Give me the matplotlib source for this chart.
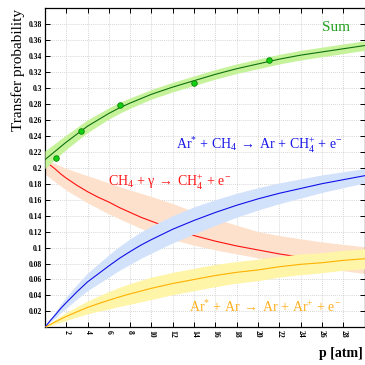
import numpy as np
import matplotlib
matplotlib.use('Agg')
from matplotlib import pyplot as plt
from matplotlib.ticker import MultipleLocator, FuncFormatter

plt.rcParams['font.family'] = 'Liberation Serif'
plt.rcParams['mathtext.fontset'] = 'custom'
plt.rcParams['mathtext.rm'] = 'Liberation Serif'
plt.rcParams['mathtext.it'] = 'Liberation Serif:italic'
plt.rcParams['mathtext.bf'] = 'Liberation Serif:bold'

# pressure grid (atm)
p = [0, 0.5, 1, 1.5, 2, 3, 4, 5, 6, 7, 8, 9, 10, 12, 14, 16, 18, 20, 22, 24, 26, 28, 30]

# Ar* + CH4 -> Ar + CH4+ + e-
penning = [0, 0.0085, 0.016, 0.024, 0.031, 0.0445, 0.057, 0.067, 0.077, 0.0866, 0.095,
           0.103, 0.110, 0.123, 0.134, 0.144, 0.153, 0.161, 0.168, 0.174, 0.180, 0.185, 0.190]
penning_err = [0, 0.002, 0.004, 0.0055, 0.007, 0.009, 0.011, 0.0125, 0.014, 0.015, 0.016,
               0.0165, 0.017, 0.017, 0.017, 0.016, 0.015, 0.014, 0.013, 0.012, 0.011, 0.010, 0.009]

# Ar* + Ar -> Ar + Ar+ + e-
arar = [0, 0.0037, 0.0072, 0.0105, 0.0137, 0.0195, 0.025, 0.0297, 0.034, 0.0383, 0.042,
        0.0455, 0.049, 0.055, 0.060, 0.065, 0.069, 0.072, 0.076, 0.079, 0.081, 0.084, 0.086]
arar_err = [0, 0.0015, 0.003, 0.004, 0.005, 0.0065, 0.008, 0.0095, 0.011, 0.012, 0.013,
            0.0135, 0.014, 0.014, 0.014, 0.014, 0.0135, 0.0135, 0.013, 0.013, 0.0125, 0.0125, 0.0125]

# CH4 + gamma -> CH4+ + e-
photo = [0.210, 0.2033, 0.198, 0.192, 0.187, 0.178, 0.170, 0.163, 0.157, 0.150, 0.144,
         0.138, 0.133, 0.123, 0.115, 0.108, 0.102, 0.097, 0.092, 0.088, 0.084, 0.080, 0.077]
photo_hi = [0.210, 0.2075, 0.205, 0.202, 0.199, 0.1945, 0.190, 0.1855, 0.181, 0.1765, 0.172,
            0.168, 0.164, 0.155, 0.145, 0.136, 0.128, 0.120, 0.115, 0.111, 0.107, 0.104, 0.101]
photo_lo = [0.192, 0.187, 0.182, 0.177, 0.172, 0.164, 0.156, 0.149, 0.142, 0.136, 0.130,
            0.124, 0.118, 0.110, 0.103, 0.097, 0.092, 0.087, 0.083, 0.079, 0.075, 0.071, 0.0675]

# total
total = [0.210, 0.2155, 0.221, 0.2265, 0.232, 0.242, 0.252, 0.260, 0.268, 0.275, 0.281,
         0.2865, 0.292, 0.301, 0.309, 0.317, 0.324, 0.330, 0.336, 0.341, 0.345, 0.349, 0.353]
total_err = [0.011, 0.0105, 0.010, 0.0095, 0.009, 0.0085, 0.008, 0.0075, 0.007, 0.0068, 0.0065,
             0.0062, 0.006, 0.006, 0.006, 0.006, 0.006, 0.006, 0.006, 0.006, 0.006, 0.006, 0.006]

# measured points
meas_p = [1, 3.4, 7, 14, 21]
meas_t = [0.212, 0.246, 0.278, 0.306, 0.335]

p = np.array(p)
fig = plt.figure(figsize=(3.65, 3.65), dpi=100)
ax = fig.add_axes([0.123, 0.103, 0.876, 0.875])

ax.fill_between(p, photo_lo, photo_hi, color='#fde1cc', lw=0, zorder=1)
ax.plot(p, photo, color='#ff1010', lw=0.8, zorder=2)

ax.fill_between(p, np.array(penning) - penning_err, np.array(penning) + penning_err,
                color='#d3e2fb', lw=0, zorder=3)
ax.plot(p, penning, color='#1010e8', lw=0.8, zorder=4)

ax.fill_between(p, np.array(arar) - arar_err, np.array(arar) + arar_err,
                color='#fff5a8', lw=0, zorder=5)
ax.plot(p, arar, color='#ffb000', lw=0.8, zorder=6)

ax.fill_between(p, np.array(total) - total_err, np.array(total) + total_err,
                color='#c6f29a', lw=0, zorder=7)
ax.plot(p, total, color='#107010', lw=0.8, zorder=8)
ax.plot(meas_p, meas_t, 'o', ms=4, mfc='#10d010', mec='#108010', mew=0.6, zorder=9)

ax.text(27.3, 0.375, 'Sum', color='#22a022', fontsize=11, ha='center', va='center')
ax.text(20.1, 0.228,
        r'$\mathrm{Ar^{*}\,+\,CH_{4}\;\rightarrow\;Ar\,+\,CH_{4}^{+}\,+\,e^{-}}$',
        color='#1818e8', fontsize=10, ha='center', va='center')
ax.text(11.7, 0.182, r'$\mathrm{CH_{4}\,+\,\gamma\;\rightarrow\;CH_{4}^{+}\,+\,e^{-}}$',
        color='#ff1818', fontsize=10, ha='center', va='center')
ax.text(20.7, 0.025, r'$\mathrm{Ar^{*}\,+\,Ar\;\rightarrow\;Ar\,+\,Ar^{+}\,+\,e^{-}}$',
        color='#ffb020', fontsize=10, ha='center', va='center')

ax.set_xlim(0, 30)
ax.set_ylim(0, 0.4)
ax.xaxis.set_major_locator(MultipleLocator(2))
ax.yaxis.set_major_locator(MultipleLocator(0.02))

def xfmt(v, pos):
    if v <= 0 or v >= 29.9:
        return ''
    return '%g' % v

def yfmt(v, pos):
    if v <= 0.001 or v >= 0.399:
        return ''
    return '%g' % round(v, 2)

ax.xaxis.set_major_formatter(FuncFormatter(xfmt))
ax.yaxis.set_major_formatter(FuncFormatter(yfmt))
ax.tick_params(direction='in', top=True, right=True, length=3.5, width=0.7,
               labelsize=5.5, pad=2)
for lab in ax.get_xticklabels():
    lab.set_rotation(-90)
    lab.set_fontweight('bold')
for lab in ax.get_yticklabels():
    lab.set_fontweight('bold')

ax.grid(True, color='#c8c8c8', ls=(0, (1, 1.5)), lw=0.6)
ax.set_axisbelow(True)
for s in ax.spines.values():
    s.set_linewidth(0.9)

fig.text(0.05, 0.975, 'Transfer probability', rotation=90, ha='center', va='top',
         fontsize=11)
fig.text(0.995, 0.015, 'p [atm]', ha='right', va='bottom', fontsize=10,
         fontweight='bold')

fig.savefig('out.png', dpi=100)
